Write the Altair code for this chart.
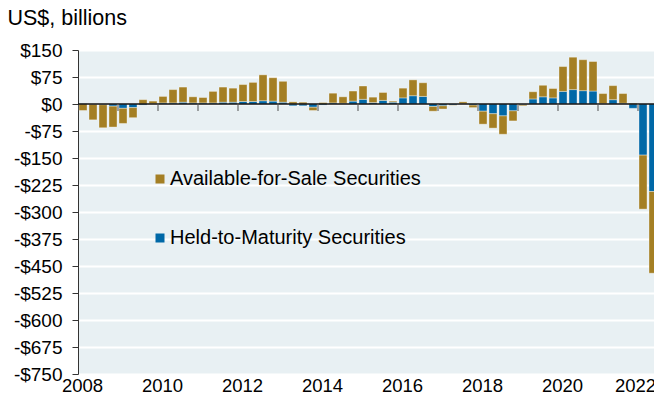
import altair as alt
import pandas as pd

# Quarterly data, 2008 Q1 .. 2022 Q3 (US$ billions)
quarters = [f"{y}Q{q}" for y in range(2008, 2023) for q in range(1, 5)][:59]
afs = [-18, -43, -64, -58, -42, -28, 12, 7,
       18, 37, 42, 17, 15, 32, 42, 39,
       47, 53, 72, 65, 58, 6, 5, -9,
       4, 27, 18, 28, 37, 15, 22, 3,
       27, 44, 38, -13, -9, -1, 5, -7,
       -36, -40, -51, -28, -3, 20, 32, 26,
       69, 90, 86, 82, 28, 39, 27, 2,
       -150, -227, -321]
htm = [1, -1, -2, -6, -12, -10, -3, 1,
       3, 3, 5, 3, 3, 3, 5, 5,
       7, 7, 9, 8, 5, -5, -5, -9,
       -3, 3, 2, 8, 13, 4, 10, 5,
       17, 23, 21, -7, -5, -3, 1, -3,
       -20, -27, -33, -19, -2, 14, 20, 17,
       35, 40, 37, 36, 1, 12, 2, -12,
       -142, -243, -369]
series_names = ["Available-for-Sale Securities", "Held-to-Maturity Securities"]
series_colors = ["#A47F24", "#0068A7"]
year_labels = [2008, 2010, 2012, 2014, 2016, 2018, 2020, 2022]
tick_years = list(range(2009, 2023))
y_ticks = list(range(-750, 151, 75))

# Stack: HTM next to zero, AFS beyond it (positives and negatives stacked separately)
rows = []
for qs, a, h in zip(quarters, afs, htm):
    yr = int(qs[:4]); qn = int(qs[-1])
    start = yr + (qn - 1) / 4
    rows.append({"q": qs, "x": start + 0.025, "x2": start + 0.225,
                 "series": series_names[1], "y0": 0, "y1": h})
    base = h if (a >= 0) == (h >= 0) else 0
    rows.append({"q": qs, "x": start + 0.025, "x2": start + 0.225,
                 "series": series_names[0], "y0": base, "y1": base + a})
df = pd.DataFrame(rows)
tick_df = pd.DataFrame({"year": tick_years, "v": [0] * len(tick_years)})
zero_df = pd.DataFrame({"v": [0]})

font = "Liberation Sans"
x_scale = alt.Scale(domain=[2008, 2022.4], nice=False, zero=False, padding=0)
x_axis = alt.Axis(values=year_labels, format="d", ticks=False, domain=False, grid=False,
                  labelFontSize=18.5, labelPadding=17.5, labelBaseline="alphabetic",
                  labelFlush=False, title=None, labelColor="black", labelFont=font,
                  labelOffset={"condition": {"test": "datum.value == 2022", "value": -3},
                               "value": 4})
y_scale = alt.Scale(domain=[-750, 150], nice=False, zero=False, padding=0)
y_axis = alt.Axis(values=y_ticks, labelExpr="(datum.value < 0 ? '-$' : '$') + abs(datum.value)",
                  tickSize=6, labelPadding=10, domainColor="#333", tickColor="#333",
                  gridColor="white", gridWidth=2, grid=True, labelFontSize=19,
                  labelColor="black", labelFont=font,
                  title="US$, billions", titleAngle=0, titleAlign="left",
                  titleBaseline="alphabetic", titleX=-71, titleY=-26, titleFontSize=21.5,
                  titleFontWeight="normal", titleColor="black", titleFont=font)

bars = alt.Chart(df).mark_bar(stroke="white", strokeWidth=1, strokeOpacity=0.35, clip=True).encode(
    x=alt.X("x:Q", scale=x_scale, axis=x_axis),
    x2="x2:Q",
    y=alt.Y("y0:Q", scale=y_scale, axis=y_axis),
    y2="y1:Q",
    color=alt.Color("series:N", scale=alt.Scale(domain=series_names, range=series_colors),
                    legend=alt.Legend(orient="none", legendX=72, legendY=119, title=None,
                                      symbolType="square", symbolSize=81, symbolStrokeWidth=0,
                                      labelFontSize=20, labelFont=font, labelColor="black",
                                      labelLimit=500, rowPadding=39, labelOffset=0,
                                      direction="vertical")),
)

zero_rule = alt.Chart(zero_df).mark_rule(color="#111", strokeWidth=1.5).encode(
    y=alt.Y("v:Q", scale=y_scale, axis=y_axis)
)

ticks = alt.Chart(tick_df).mark_tick(orient="vertical", size=7, thickness=1.5, yOffset=3.5,
                                     color="#555", clip=True).encode(
    x=alt.X("year:Q", scale=x_scale, axis=x_axis),
    y=alt.Y("v:Q", scale=y_scale, axis=y_axis),
)

chart = alt.layer(bars, zero_rule, ticks).properties(
    width=576, height=324,
    padding={"left": 70, "top": 42, "right": 0, "bottom": 18},
    autosize="none",
).configure_view(fill="#E8F0F3", stroke=None)

chart.save("out.html", embed_options={"renderer": "svg", "actions": False})
